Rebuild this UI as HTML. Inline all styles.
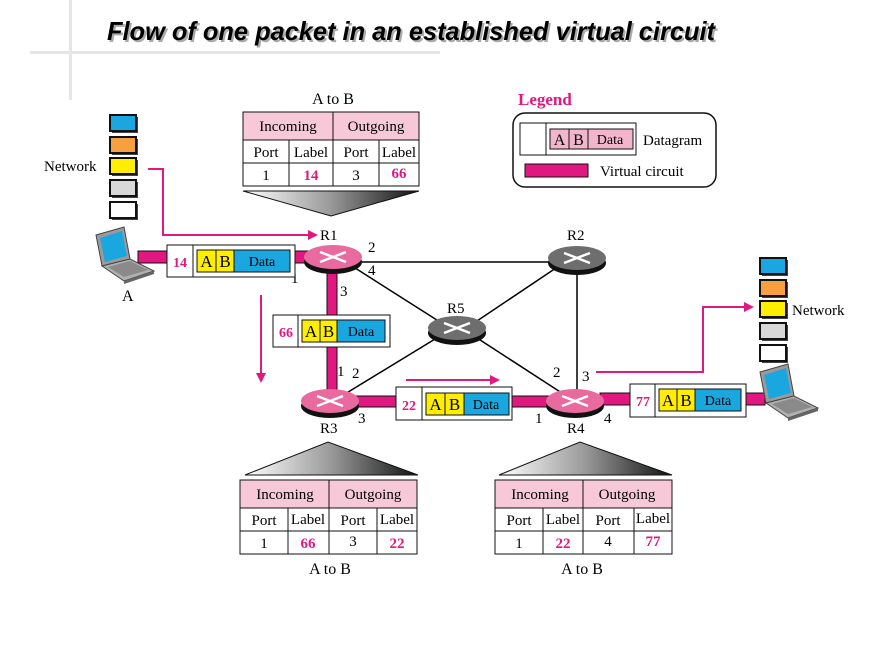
<!DOCTYPE html>
<html><head><meta charset="utf-8"><style>
html,body{margin:0;padding:0;background:#fff;}
svg{display:block;}
text{font-family:"Liberation Serif",serif;}
</style></head><body>
<svg width="880" height="660" viewBox="0 0 880 660" xmlns="http://www.w3.org/2000/svg">
<defs>
<linearGradient id="tri" x1="0" x2="1" y1="0" y2="0">
<stop offset="0" stop-color="#fff"/><stop offset="0.5" stop-color="#999"/><stop offset="1" stop-color="#111"/></linearGradient>
<marker id="ah" markerWidth="10" markerHeight="10" refX="8" refY="5" orient="auto" markerUnits="userSpaceOnUse"><path d="M0,0 L10,5 L0,10 Z" fill="#e0187f"/></marker>
<g id="laptop">
<path d="M-22,-20 L6,-28 L12,4 L-16,11 Z" fill="#9a9a9a" stroke="#444" stroke-width="1"/>
<path d="M-18,-17 L4,-24 L9,1 L-13,7 Z" fill="#1aa7e0"/>
<path d="M-16,11 L12,4 L36,16 L6,26 Z" fill="#b0b0b0" stroke="#444" stroke-width="1"/>
<path d="M-10,12 L12,6 L30,15 L6,22 Z" fill="#8a8a8a"/>
<path d="M6,26 L36,16 L36,19 L6,29 Z" fill="#666"/>
</g>
</defs>

<!-- slide decoration -->
<rect x="69" y="0" width="3" height="100" fill="#e6e6e6"/>
<rect x="30" y="51" width="410" height="3" fill="#e6e6e6"/>
<text x="109" y="42" font-weight="bold" font-style="italic" font-size="26" fill="#aaa" textLength="608" lengthAdjust="spacingAndGlyphs" style="font-family:'Liberation Sans',sans-serif">Flow of one packet in an established virtual circuit</text>
<text x="107" y="40" font-weight="bold" font-style="italic" font-size="26" fill="#000" textLength="608" lengthAdjust="spacingAndGlyphs" style="font-family:'Liberation Sans',sans-serif">Flow of one packet in an established virtual circuit</text>

<!-- black links -->
<g stroke="#000" stroke-width="1.5" fill="none">
<line x1="360" y1="262" x2="550" y2="262"/>
<line x1="352" y1="266" x2="440" y2="322"/>
<line x1="556" y1="268" x2="474" y2="323"/>
<line x1="577" y1="268" x2="577" y2="392"/>
<line x1="440" y1="336" x2="340" y2="397"/>
<line x1="474" y1="336" x2="568" y2="397"/>
</g>

<!-- pink VC -->
<g fill="#e0187f" stroke="#111" stroke-width="1">
<rect x="138" y="251" width="170" height="12"/>
<rect x="327" y="265" width="10" height="130"/>
<rect x="355" y="396" width="200" height="11"/>
<rect x="600" y="393" width="165" height="12"/>
</g>

<!-- routers -->
<g>
<ellipse cx="333" cy="262" rx="29" ry="12" fill="#111"/><ellipse cx="333" cy="257" rx="29" ry="12" fill="#e86a9f"/>
<ellipse cx="577" cy="263" rx="29" ry="12" fill="#111"/><ellipse cx="577" cy="258" rx="29" ry="12" fill="#6e6e6e"/>
<ellipse cx="457" cy="333" rx="29" ry="12" fill="#111"/><ellipse cx="457" cy="328" rx="29" ry="12" fill="#6e6e6e"/>
<ellipse cx="330" cy="406" rx="29" ry="12" fill="#111"/><ellipse cx="330" cy="401" rx="29" ry="12" fill="#e86a9f"/>
<ellipse cx="575" cy="406" rx="29" ry="12" fill="#111"/><ellipse cx="575" cy="401" rx="29" ry="12" fill="#e86a9f"/>
<g stroke="#fff" stroke-width="2.5">
<path d="M320,252 L346,262 M320,262 L346,252"/>
<path d="M564,253 L590,263 M564,263 L590,253"/>
<path d="M444,323 L470,333 M444,333 L470,323"/>
<path d="M317,396 L343,406 M317,406 L343,396"/>
<path d="M562,396 L588,406 M562,406 L588,396"/>
</g>
</g>
<g font-size="15" fill="#000">
<text x="320" y="240">R1</text><text x="567" y="240">R2</text><text x="447" y="313">R5</text>
<text x="320" y="433">R3</text><text x="567" y="433">R4</text>
<text x="368" y="252">2</text><text x="368" y="275">4</text><text x="291" y="283">1</text><text x="340" y="296">3</text>
<text x="337" y="376">1</text><text x="352" y="378">2</text><text x="358" y="423">3</text>
<text x="535" y="423">1</text><text x="553" y="377">2</text><text x="582" y="381">3</text><text x="604" y="423">4</text>
<text x="122" y="301" font-size="16">A</text>
<text x="44" y="171">Network</text><text x="792" y="315">Network</text>
</g>

<!-- laptops -->
<use href="#laptop" x="118" y="255"/>
<use href="#laptop" x="782" y="392"/>

<!-- network icons -->
<g stroke="#111" stroke-width="2">
<g transform="translate(110,115)">
<rect x="2" y="2" width="26" height="16" fill="#444" stroke="none"/>
<rect x="0" y="0" width="26" height="16" fill="#1aa7e0"/>
<rect x="2" y="24" width="26" height="16" fill="#444" stroke="none"/><rect x="0" y="22" width="26" height="16" fill="#f6a040"/>
<rect x="2" y="45" width="26" height="16" fill="#444" stroke="none"/><rect x="0" y="43" width="26" height="16" fill="#ffee00"/>
<rect x="2" y="67" width="26" height="16" fill="#444" stroke="none"/><rect x="0" y="65" width="26" height="16" fill="#d8d8d8"/>
<rect x="2" y="89" width="26" height="16" fill="#444" stroke="none"/><rect x="0" y="87" width="26" height="16" fill="#fff"/>
</g>
<g transform="translate(760,258)">
<rect x="2" y="2" width="26" height="16" fill="#444" stroke="none"/><rect x="0" y="0" width="26" height="16" fill="#1aa7e0"/>
<rect x="2" y="24" width="26" height="16" fill="#444" stroke="none"/><rect x="0" y="22" width="26" height="16" fill="#f6a040"/>
<rect x="2" y="45" width="26" height="16" fill="#444" stroke="none"/><rect x="0" y="43" width="26" height="16" fill="#ffee00"/>
<rect x="2" y="67" width="26" height="16" fill="#444" stroke="none"/><rect x="0" y="65" width="26" height="16" fill="#d8d8d8"/>
<rect x="2" y="89" width="26" height="16" fill="#444" stroke="none"/><rect x="0" y="87" width="26" height="16" fill="#fff"/>
</g>
</g>

<!-- pink arrows -->
<g stroke="#e0187f" stroke-width="2" fill="none" marker-end="url(#ah)">
<path d="M148,169 L163,169 L163,235 L316,235"/>
<path d="M261,295 L261,381"/>
<path d="M406,380 L498,380"/>
<path d="M596,372 L703,372 L703,307 L752,307"/>
</g>

<!-- packets -->
<g font-size="14">
<g transform="translate(167,245)">
<rect x="0" y="0" width="128" height="32" fill="#fff" stroke="#111"/><line x1="26" y1="0" x2="26" y2="32" stroke="#111"/>
<text x="13" y="22" text-anchor="middle" fill="#e0187f" font-weight="bold">14</text>
<rect x="30" y="5" width="19" height="22" fill="#ffee00" stroke="#111"/><rect x="49" y="5" width="18" height="22" fill="#ffee00" stroke="#111"/><rect x="67" y="5" width="56" height="22" fill="#1aa7e0" stroke="#111"/>
<text x="39.5" y="22" text-anchor="middle" font-size="17">A</text><text x="58" y="22" text-anchor="middle" font-size="17">B</text><text x="95" y="21" text-anchor="middle">Data</text>
</g>
<g transform="translate(273,315)">
<rect x="0" y="0" width="117" height="32" fill="#fff" stroke="#111"/><line x1="25" y1="0" x2="25" y2="32" stroke="#111"/>
<text x="13" y="22" text-anchor="middle" fill="#e0187f" font-weight="bold">66</text>
<rect x="29" y="5" width="18" height="22" fill="#ffee00" stroke="#111"/><rect x="47" y="5" width="17" height="22" fill="#ffee00" stroke="#111"/><rect x="64" y="5" width="48" height="22" fill="#1aa7e0" stroke="#111"/>
<text x="38" y="22" text-anchor="middle" font-size="17">A</text><text x="55.5" y="22" text-anchor="middle" font-size="17">B</text><text x="88" y="21" text-anchor="middle">Data</text>
</g>
<g transform="translate(396,387)">
<rect x="0" y="0" width="116" height="33" fill="#fff" stroke="#111"/><line x1="26" y1="0" x2="26" y2="33" stroke="#111"/>
<text x="13" y="23" text-anchor="middle" fill="#e0187f" font-weight="bold">22</text>
<rect x="30" y="6" width="19" height="22" fill="#ffee00" stroke="#111"/><rect x="49" y="6" width="19" height="22" fill="#ffee00" stroke="#111"/><rect x="68" y="6" width="45" height="22" fill="#1aa7e0" stroke="#111"/>
<text x="39.5" y="23" text-anchor="middle" font-size="17">A</text><text x="58.5" y="23" text-anchor="middle" font-size="17">B</text><text x="90" y="22" text-anchor="middle">Data</text>
</g>
<g transform="translate(630,384)">
<rect x="0" y="0" width="116" height="33" fill="#fff" stroke="#111"/><line x1="25" y1="0" x2="25" y2="33" stroke="#111"/>
<text x="13" y="22" text-anchor="middle" fill="#e0187f" font-weight="bold">77</text>
<rect x="29" y="5" width="18" height="22" fill="#ffee00" stroke="#111"/><rect x="47" y="5" width="18" height="22" fill="#ffee00" stroke="#111"/><rect x="65" y="5" width="46" height="22" fill="#1aa7e0" stroke="#111"/>
<text x="38" y="22" text-anchor="middle" font-size="17">A</text><text x="56" y="22" text-anchor="middle" font-size="17">B</text><text x="88" y="21" text-anchor="middle">Data</text>
</g>
</g>

<!-- Tables -->
<g font-size="15">
<text x="333" y="104" text-anchor="middle" font-size="16">A to B</text>
<rect x="243" y="112" width="176" height="28" fill="#f7c9d8" stroke="#111"/>
<rect x="243" y="140" width="176" height="46" fill="#fff" stroke="#111"/>
<line x1="243" y1="163" x2="419" y2="163" stroke="#111"/>
<line x1="333" y1="112" x2="333" y2="186" stroke="#111"/>
<line x1="289" y1="140" x2="289" y2="186" stroke="#111"/><line x1="379" y1="140" x2="379" y2="186" stroke="#111"/>
<text x="288" y="131" text-anchor="middle">Incoming</text><text x="376" y="131" text-anchor="middle">Outgoing</text>
<text x="266" y="157" text-anchor="middle">Port</text><text x="311" y="157" text-anchor="middle">Label</text><text x="356" y="157" text-anchor="middle">Port</text><text x="399" y="157" text-anchor="middle">Label</text>
<text x="266" y="180" text-anchor="middle">1</text><text x="311" y="180" text-anchor="middle" fill="#e0187f" font-weight="bold">14</text><text x="356" y="180" text-anchor="middle">3</text><text x="399" y="178" text-anchor="middle" fill="#e0187f" font-weight="bold">66</text>
<path d="M243,191 L419,191 L331,216 Z" fill="url(#tri)" stroke="#111"/>

<path d="M245,475 L418,475 L328,442 Z" fill="url(#tri)" stroke="#111"/>
<rect x="240" y="480" width="177" height="28" fill="#f7c9d8" stroke="#111"/>
<rect x="240" y="508" width="177" height="46" fill="#fff" stroke="#111"/>
<line x1="240" y1="531" x2="417" y2="531" stroke="#111"/>
<line x1="329" y1="480" x2="329" y2="554" stroke="#111"/>
<line x1="288" y1="508" x2="288" y2="554" stroke="#111"/><line x1="377" y1="508" x2="377" y2="554" stroke="#111"/>
<text x="285" y="499" text-anchor="middle">Incoming</text><text x="373" y="499" text-anchor="middle">Outgoing</text>
<text x="264" y="525" text-anchor="middle">Port</text><text x="308" y="524" text-anchor="middle">Label</text><text x="353" y="525" text-anchor="middle">Port</text><text x="397" y="524" text-anchor="middle">Label</text>
<text x="264" y="548" text-anchor="middle">1</text><text x="308" y="548" text-anchor="middle" fill="#e0187f" font-weight="bold">66</text><text x="353" y="546" text-anchor="middle">3</text><text x="397" y="548" text-anchor="middle" fill="#e0187f" font-weight="bold">22</text>
<text x="330" y="574" text-anchor="middle" font-size="16">A to B</text>

<path d="M499,475 L672,475 L580,442 Z" fill="url(#tri)" stroke="#111"/>
<rect x="495" y="480" width="177" height="28" fill="#f7c9d8" stroke="#111"/>
<rect x="495" y="508" width="177" height="46" fill="#fff" stroke="#111"/>
<line x1="495" y1="531" x2="672" y2="531" stroke="#111"/>
<line x1="583" y1="480" x2="583" y2="554" stroke="#111"/>
<line x1="543" y1="508" x2="543" y2="554" stroke="#111"/><line x1="634" y1="508" x2="634" y2="554" stroke="#111"/>
<text x="540" y="499" text-anchor="middle">Incoming</text><text x="627" y="499" text-anchor="middle">Outgoing</text>
<text x="519" y="525" text-anchor="middle">Port</text><text x="563" y="524" text-anchor="middle">Label</text><text x="608" y="525" text-anchor="middle">Port</text><text x="653" y="523" text-anchor="middle">Label</text>
<text x="519" y="548" text-anchor="middle">1</text><text x="563" y="548" text-anchor="middle" fill="#e0187f" font-weight="bold">22</text><text x="608" y="546" text-anchor="middle">4</text><text x="653" y="546" text-anchor="middle" fill="#e0187f" font-weight="bold">77</text>
<text x="582" y="574" text-anchor="middle" font-size="16">A to B</text>
</g>

<!-- Legend -->
<text x="518" y="105" font-size="17" font-weight="bold" fill="#e0187f">Legend</text>
<rect x="513" y="113" width="203" height="74" rx="12" fill="#fff" stroke="#111" stroke-width="1.5"/>
<rect x="520" y="123" width="116" height="32" fill="#fff" stroke="#111"/>
<line x1="546" y1="123" x2="546" y2="155" stroke="#111"/>
<rect x="550" y="129" width="19" height="20" fill="#f3b5cc" stroke="#111"/>
<rect x="569" y="129" width="19" height="20" fill="#f3b5cc" stroke="#111"/>
<rect x="588" y="129" width="45" height="20" fill="#f3b5cc" stroke="#111"/>
<text x="559.5" y="145" text-anchor="middle" font-size="16">A</text><text x="578.5" y="145" text-anchor="middle" font-size="16">B</text><text x="610" y="144" text-anchor="middle" font-size="14">Data</text>
<text x="643" y="145" font-size="15">Datagram</text>
<rect x="525" y="164" width="63" height="13" fill="#e0187f" stroke="#111"/>
<text x="600" y="176" font-size="15">Virtual circuit</text>
</svg>
</body></html>
